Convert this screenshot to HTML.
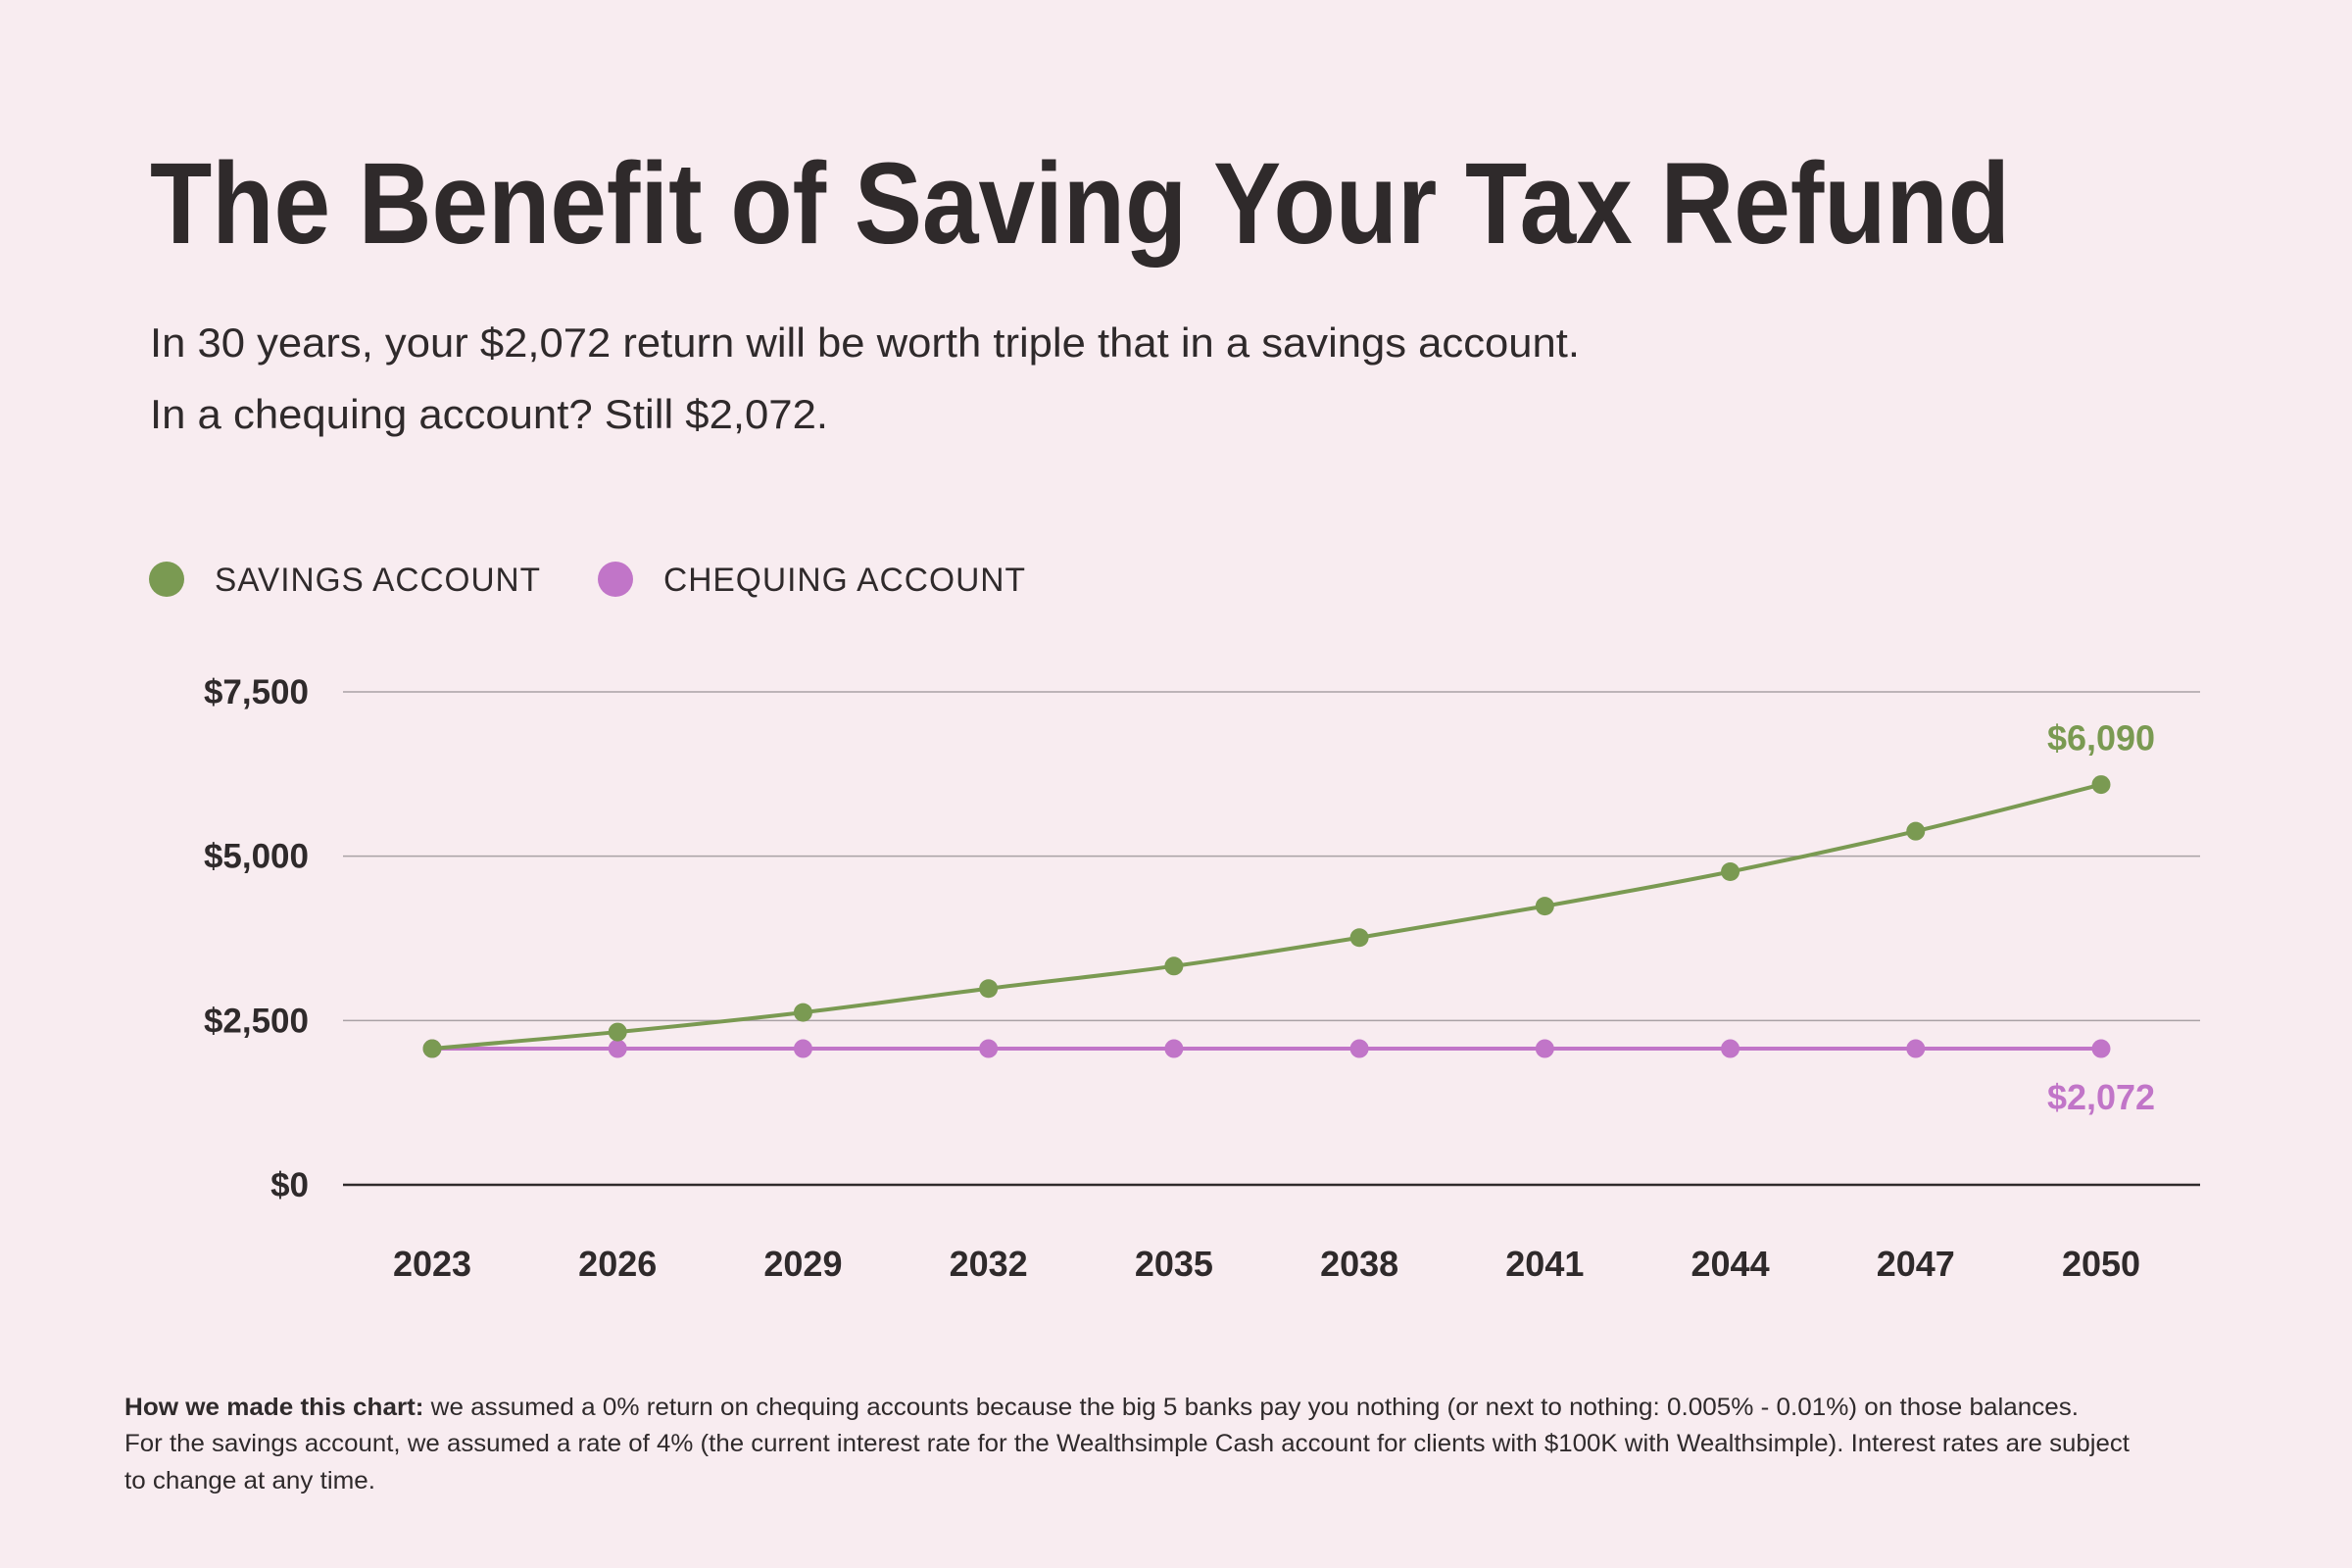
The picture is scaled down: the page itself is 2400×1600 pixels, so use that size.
<!DOCTYPE html>
<html><head><meta charset="utf-8"><style>
html,body{margin:0;padding:0;background:#f8ecf0;}
svg{display:block;font-family:"Liberation Sans",sans-serif;}
</style></head><body>
<svg id="chart" width="2400" height="1600" viewBox="0 0 2400 1600">
<rect width="2400" height="1600" fill="#f8ecf0"/>
<text x="153" y="248" font-size="118" font-weight="bold" fill="#2f2a2b" textLength="1898" lengthAdjust="spacingAndGlyphs">The Benefit of Saving Your Tax Refund</text>
<text x="153" y="364" font-size="42" fill="#2f2a2b" textLength="1459" lengthAdjust="spacingAndGlyphs">In 30 years, your $2,072 return will be worth triple that in a savings account.</text>
<text x="153" y="437" font-size="42" fill="#2f2a2b" textLength="692" lengthAdjust="spacingAndGlyphs">In a chequing account? Still $2,072.</text>
<g>
<circle cx="170" cy="591" r="18" fill="#7a9a52"/>
<text x="219" y="603" font-size="34" fill="#2f2a2b" letter-spacing="1" textLength="333" lengthAdjust="spacingAndGlyphs">SAVINGS ACCOUNT</text>
<circle cx="628" cy="591" r="18" fill="#c175c8"/>
<text x="677" y="603" font-size="34" fill="#2f2a2b" letter-spacing="1" textLength="370" lengthAdjust="spacingAndGlyphs">CHEQUING ACCOUNT</text>
</g>
<g id="plot"></g>
<g font-size="25" fill="#2f2a2b">
<text x="127" y="1444" textLength="1994" lengthAdjust="spacingAndGlyphs"><tspan font-weight="bold">How we made this chart:</tspan> we assumed a 0% return on chequing accounts because the big 5 banks pay you nothing (or next to nothing: 0.005% - 0.01%) on those balances.</text>
<text x="127" y="1481" textLength="2046" lengthAdjust="spacingAndGlyphs">For the savings account, we assumed a rate of 4% (the current interest rate for the Wealthsimple Cash account for clients with $100K with Wealthsimple). Interest rates are subject</text>
<text x="127" y="1519" textLength="256" lengthAdjust="spacingAndGlyphs">to change at any time.</text>
</g>
</svg>
<script>
const years = [2023, 2026, 2029, 2032, 2035, 2038, 2041, 2044, 2047, 2050];
const savings = [2072, 2325, 2622, 2986, 3328, 3761, 4240, 4764, 5380, 6090];
const chequing = [2072, 2072, 2072, 2072, 2072, 2072, 2072, 2072, 2072, 2072];
const yTicks = [0, 2500, 5000, 7500];
const yTickLabels = ["$0", "$2,500", "$5,000", "$7,500"];

const NS = "http://www.w3.org/2000/svg";
const plot = document.getElementById("plot");
const X0 = 441, X1 = 2144, Y0 = 1209, Y1 = 706, YMAX = 7500;
const xPos = i => X0 + (X1 - X0) * i / (years.length - 1);
const yPos = v => Y0 - (Y0 - Y1) * v / YMAX;
function mk(tag, attrs) {
  const e = document.createElementNS(NS, tag);
  for (const k in attrs) e.setAttribute(k, attrs[k]);
  plot.appendChild(e);
  return e;
}
yTicks.forEach((t, i) => {
  const g = mk("line", {x1: 350, x2: 2245, y1: yPos(t), y2: yPos(t), stroke: t === 0 ? "#2f2a2b" : "#a9a2a5", "stroke-width": t === 0 ? 2.5 : 1.5});
  
  
  const l = mk("text", {x: 315, y: yPos(t) + 12, "text-anchor": "end", "font-size": 35, "font-weight": "bold", fill: "#2f2a2b"});
  l.textContent = yTickLabels[i];
  
  
});
years.forEach((yr, i) => {
  const l = mk("text", {x: xPos(i), y: 1302, "text-anchor": "middle", "font-size": 36, "font-weight": "bold", fill: "#2f2a2b"});
  l.textContent = yr;
  
  
});
function smoothPath(vals) {
  const p = vals.map((v, i) => [xPos(i), yPos(v)]);
  let d = "M" + p[0][0] + "," + p[0][1];
  for (let i = 0; i < p.length - 1; i++) {
    const p0 = p[Math.max(0, i - 1)], p1 = p[i], p2 = p[i + 1], p3 = p[Math.min(p.length - 1, i + 2)];
    const c1 = [p1[0] + (p2[0] - p0[0]) / 6, p1[1] + (p2[1] - p0[1]) / 6];
    const c2 = [p2[0] - (p3[0] - p1[0]) / 6, p2[1] - (p3[1] - p1[1]) / 6];
    d += " C" + c1 + " " + c2 + " " + p2;
  }
  return d;
}
function series(vals, color, name) {
  const path = mk("path", {d: smoothPath(vals), fill: "none", stroke: color, "stroke-width": 4});
  
  
  vals.forEach((v, i) => {
    const c = mk("circle", {cx: xPos(i), cy: yPos(v), r: 9.5, fill: color});
    
    
  });
}
series(chequing, "#c175c8", "chequing");
series(savings, "#7a9a52", "savings");
const last = years.length - 1;
const sl = mk("text", {x: xPos(last), y: yPos(savings[last]) - 35, "text-anchor": "middle", "font-size": 36, "font-weight": "bold", fill: "#7a9a52"});
sl.textContent = "$" + savings[last].toLocaleString("en-US");


const cl = mk("text", {x: xPos(last), y: yPos(chequing[last]) + 62, "text-anchor": "middle", "font-size": 36, "font-weight": "bold", fill: "#c175c8"});
cl.textContent = "$" + chequing[last].toLocaleString("en-US");


</script>
</body></html>
